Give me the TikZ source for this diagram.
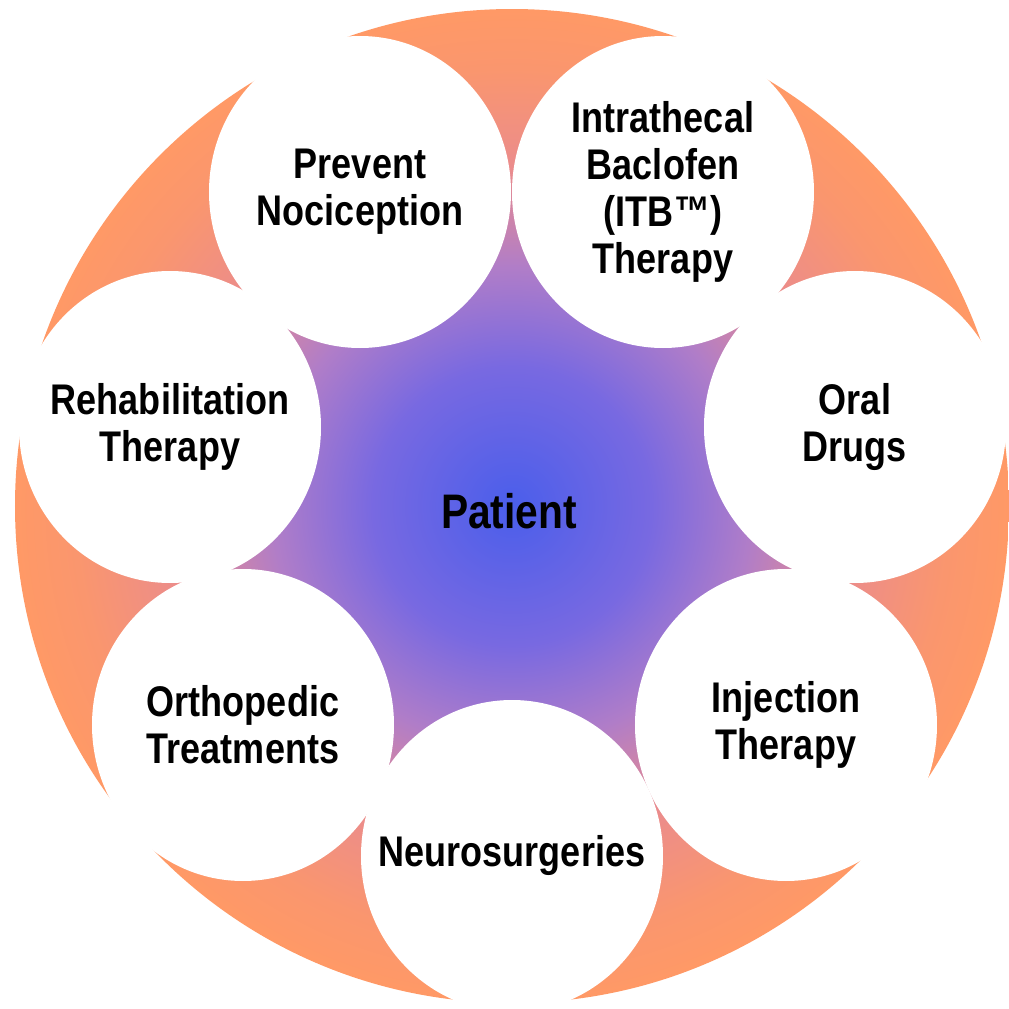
\documentclass[tikz,border=0pt]{standalone}
\usepackage{fontspec}
\setmainfont{Liberation Sans}[FakeStretch=0.84]
\usetikzlibrary{shapes.geometric}

% colours of the glow behind the treatment circles
\definecolor{glowblue}{RGB}{74,94,235}
\definecolor{glowviolet}{RGB}{120,105,225}
\definecolor{glowpurple}{RGB}{176,125,200}
\definecolor{glowpink}{RGB}{235,140,140}
\definecolor{glowsalmon}{RGB}{250,150,110}
\definecolor{gloworange}{RGB}{255,153,102}

\pgfdeclareradialshading{patientglow}{\pgfpoint{0bp}{0bp}}{%
  color(0bp)=(glowblue); color(7bp)=(glowviolet); color(12bp)=(glowpurple);
  color(17bp)=(glowpink); color(22bp)=(glowsalmon); color(25bp)=(gloworange);
  color(50bp)=(gloworange)}

\tikzset{
  treat/.style={ellipse, fill=white, minimum width=3.02cm, minimum height=3.12cm,
    inner sep=0pt},
  treattext/.style={align=center, font=\fontsize{12.2}{13.3}\selectfont\bfseries},
}

\begin{document}
\begin{tikzpicture}
        \useasboundingbox (0,0) rectangle (10.09,10.09);

        % background disc
        \shade[shading=patientglow] (5.12,5.03) circle (4.97);

        \node[font=\fontsize{13.8}{16}\selectfont\bfseries] (patient) at (5.09,4.98) {Patient};

        % the seven treatments around the patient
        \node[treat, label={[treattext]center:Neurosurgeries}] (neuro) at (5.12,1.53) {};
        \node[treat, label={[treattext]center:Injection\\Therapy}] (inject) at (7.86,2.84) {};
        \node[treat, label={[treattext]center:Oral\\Drugs}] (oral) at (8.55,5.82) {};
        \node[treat, label={[treattext]center:Intrathecal\\Baclofen\\(ITB™)\\Therapy}] (itb) at (6.63,8.17) {};
        \node[treat, label={[treattext]center:Prevent\\Nociception}] (noci) at (3.60,8.17) {};
        \node[treat, label={[treattext]center:Rehabilitation\\Therapy}] (rehab) at (1.70,5.82) {};
        \node[treat, label={[treattext]center:Orthopedic\\Treatments}] (ortho) at (2.43,2.84) {};

\end{tikzpicture}
\end{document}
